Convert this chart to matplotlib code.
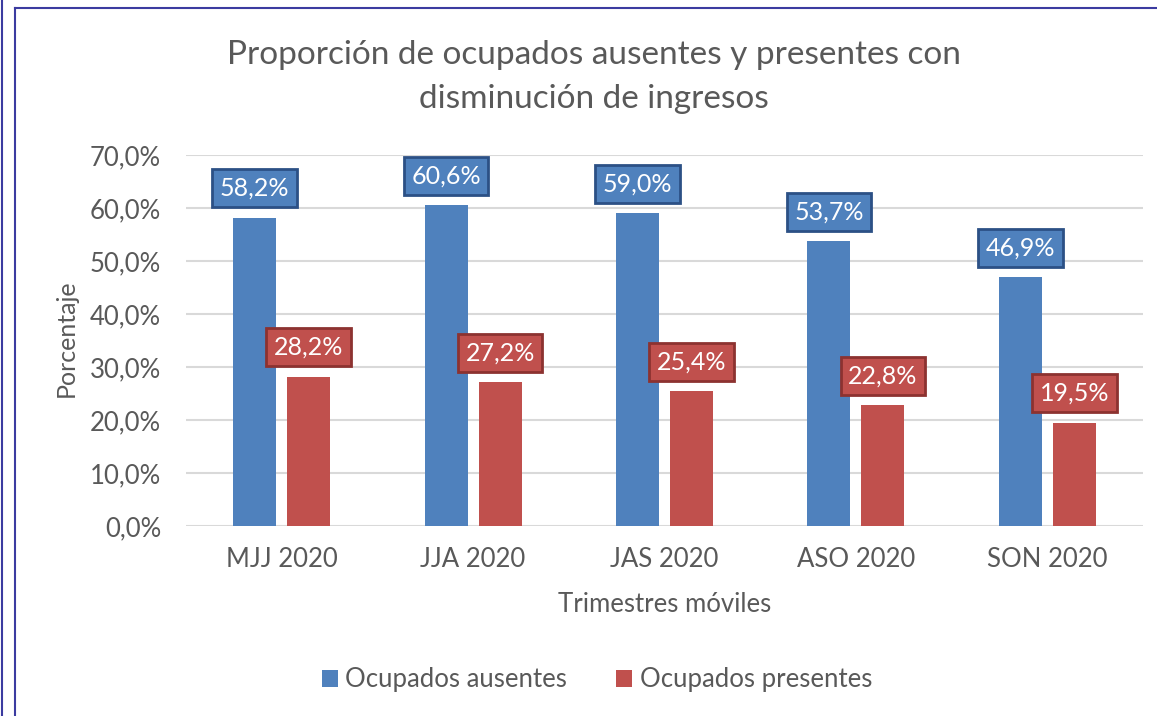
import numpy as np
import matplotlib
matplotlib.use("Agg")
import matplotlib.pyplot as plt
from matplotlib.lines import Line2D

plt.rcParams['font.family'] = ['Lato', 'DejaVu Sans']

# data
trimestres = ['MJJ 2020', 'JJA 2020', 'JAS 2020', 'ASO 2020', 'SON 2020']
ausentes = [58.2, 60.6, 59.0, 53.7, 46.9]
presentes = [28.2, 27.2, 25.4, 22.8, 19.5]
series_names = ['Ocupados ausentes', 'Ocupados presentes']
yticks = [0, 10, 20, 30, 40, 50, 60, 70]

blue = '#4F81BD'
red = '#C0504D'
blue_edge = '#2C5085'
red_edge = '#8C3230'
txt = '#595959'

fig = plt.figure(figsize=(11.57, 7.16), dpi=100)
ax = fig.add_axes([186 / 1157, 1 - 526 / 716, (1143 - 186) / 1157, (526 - 155) / 716])

x = np.arange(len(trimestres))
w = 0.225
off = 0.141
b1 = ax.bar(x - off, ausentes, w, color=blue, label=series_names[0], zorder=3)
b2 = ax.bar(x + off, presentes, w, color=red, label=series_names[1], zorder=3)

def fmt(v):
    return f'{v:.1f}%'.replace('.', ',')

for bars, vals, fc, ec in [(b1, ausentes, blue, blue_edge), (b2, presentes, red, red_edge)]:
    for rect, v in zip(bars, vals):
        ax.annotate(fmt(v), (rect.get_x() + rect.get_width() / 2, v),
                    xytext=(0, 21), textcoords='offset points',
                    ha='center', va='center', fontsize=18, color='white', zorder=5,
                    bbox=dict(boxstyle='square,pad=0.3', fc=fc, ec=ec, lw=2))

ax.set_xlim(-0.5, len(trimestres) - 0.5)
ax.set_ylim(0, 70)
ax.set_yticks(yticks)
ax.set_yticklabels([fmt(t) for t in yticks])
ax.set_xticks(x)
ax.set_xticklabels(trimestres)
ax.tick_params(axis='y', length=0, pad=18, labelsize=18.5, labelcolor=txt)
ax.tick_params(axis='x', length=0, pad=15, labelsize=18.5, labelcolor=txt)
ax.grid(axis='y', color='#D9D9D9', lw=1.5, zorder=0)
for s in ax.spines.values():
    s.set_visible(False)

ax.text(0.5, 1 - (605 - 155) / (526 - 155), 'Trimestres móviles', transform=ax.transAxes,
        ha='center', va='center', fontsize=18.5, color=txt)
fig.text(66 / 1157, 1 - 338 / 716, 'Porcentaje', rotation=90, ha='center', va='center',
         fontsize=18, color=txt)

fig.text(594 / 1157, 1 - 77 / 716,
         'Proporción de ocupados ausentes y presentes con\ndisminución de ingresos',
         ha='center', va='center', fontsize=24, color=txt, linespacing=1.6)

fig.legend(handles=[b1, b2], labels=series_names, loc='center', ncol=2,
           bbox_to_anchor=(597 / 1157, 1 - 680 / 716), frameon=False, fontsize=18.5,
           handlelength=0.62, handleheight=0.62, handletextpad=0.3, columnspacing=1.9,
           labelcolor=txt)

# outer frame lines
frame = '#3B3BA0'
fig.add_artist(Line2D([1.5 / 1157, 1.5 / 1157], [0, 1], color=frame, lw=1.5))
fig.add_artist(Line2D([15 / 1157, 15 / 1157], [0, 1 - 8 / 716], color=frame, lw=1.5))
fig.add_artist(Line2D([15 / 1157, 1], [1 - 8 / 716, 1 - 8 / 716], color=frame, lw=1.5))

fig.savefig('out.png', dpi=100)
